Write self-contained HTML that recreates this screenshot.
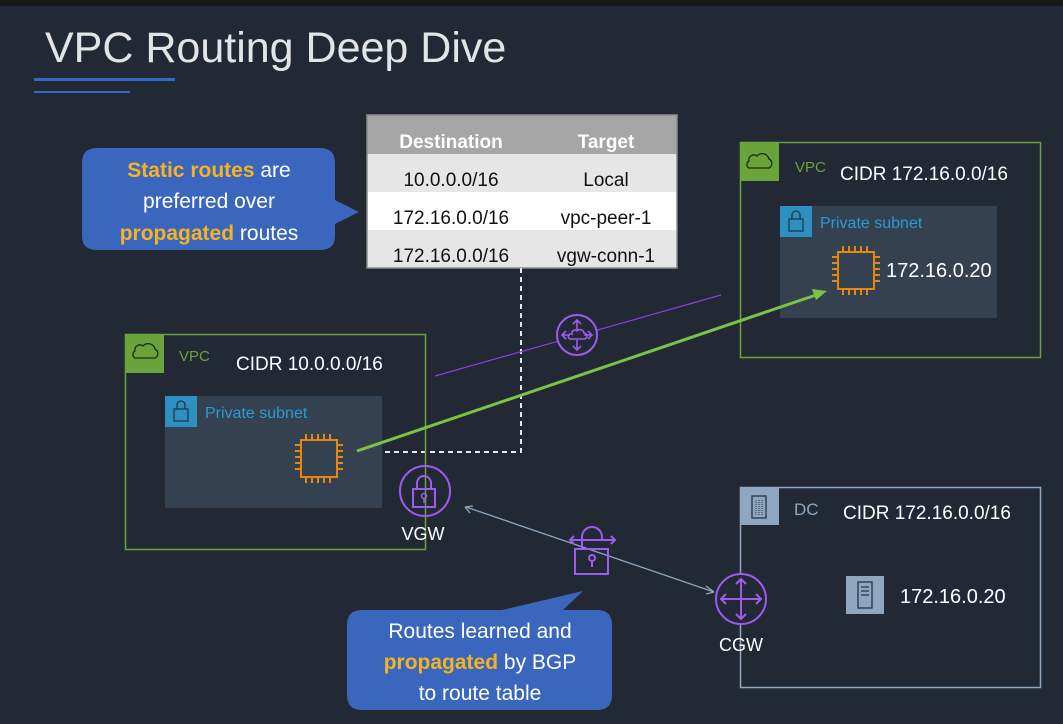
<!DOCTYPE html>
<html><head><meta charset="utf-8"><style>
body{margin:0;background:#222935;}
svg{display:block}
text{font-family:"Liberation Sans",sans-serif}
</style></head><body>
<svg width="1063" height="724" viewBox="0 0 1063 724" xmlns="http://www.w3.org/2000/svg">
<rect width="1063" height="724" fill="#222935"/>
<rect width="1063" height="6" fill="#1a1a1a"/>
<text x="45" y="62" font-size="43" fill="#e4e4e4">VPC Routing Deep Dive</text>
<rect x="34" y="78" width="141" height="3" fill="#2f6bc4"/>
<rect x="34" y="91" width="96" height="2" fill="#2f6bc4"/>

<!-- table -->
<rect x="367" y="115" width="310" height="39" fill="#a6a6a6"/>
<rect x="367" y="154" width="310" height="38" fill="#e6e6e6"/>
<rect x="367" y="192" width="310" height="38" fill="#ffffff"/>
<rect x="367" y="230" width="310" height="38" fill="#e6e6e6"/>
<rect x="367" y="115" width="310" height="153" fill="none" stroke="#8c8c8c" stroke-width="1.5"/>
<g font-size="19" text-anchor="middle">
<text x="451" y="148" fill="#fff" font-weight="bold">Destination</text>
<text x="606" y="148" fill="#fff" font-weight="bold">Target</text>
<text x="451" y="186" fill="#111">10.0.0.0/16</text>
<text x="606" y="186" fill="#111">Local</text>
<text x="451" y="224" fill="#111">172.16.0.0/16</text>
<text x="606" y="224" fill="#111">vpc-peer-1</text>
<text x="451" y="262" fill="#111">172.16.0.0/16</text>
<text x="606" y="262" fill="#111">vgw-conn-1</text>
</g>

<!-- callout 1 -->
<path d="M97 148 H320 Q335 148 335 163 V200 L359 212 L335 224 V236 Q335 250 320 250 H97 Q82 250 82 236 V163 Q82 148 97 148 Z" fill="#3a66bd"/>
<g font-size="21" text-anchor="middle" fill="#fff">
<text x="209" y="177"><tspan fill="#f5b324" font-weight="bold">Static routes</tspan> are</text>
<text x="209" y="208">preferred over</text>
<text x="209" y="240"><tspan fill="#f5b324" font-weight="bold">propagated</tspan> routes</text>
</g>

<!-- dashed -->
<path d="M521 268 V452 H383" fill="none" stroke="#e8e8e8" stroke-width="2" stroke-dasharray="5,4"/>

<!-- left VPC -->
<rect x="125.5" y="334.5" width="300" height="215" fill="none" stroke="#6aa33a" stroke-width="1.5"/>
<rect x="125" y="334" width="39" height="39" fill="#6aa33a"/>
<path d="M135 358 h20 a5 5 0 0 0 0-9 a7 7 0 0 0-12-3 a5 5 0 0 0-8 5 a4 4 0 0 0 0 7z" fill="none" stroke="#1f2a1a" stroke-width="1.3"/>
<text x="179" y="361" font-size="15" fill="#6aa33a">VPC</text>
<text x="236" y="370" font-size="19" fill="#fff">CIDR 10.0.0.0/16</text>
<rect x="165" y="396" width="217" height="112" fill="#334150"/>
<rect x="165" y="396" width="32" height="31" fill="#2e8fc1"/>
<rect x="174" y="409" width="14" height="12" fill="none" stroke="#1d3a4a" stroke-width="1.3"/>
<path d="M177 409 v-4 a4 4 0 0 1 8 0 v4" fill="none" stroke="#1d3a4a" stroke-width="1.3"/>
<text x="205" y="418" font-size="16" fill="#2e9ad0">Private subnet</text>
<g stroke="#e8870f" stroke-width="2" fill="none">
<rect x="301" y="440" width="36" height="37"/>
<path d="M306 434v6M312 434v6M318 434v6M324 434v6M330 434v6M306 477v6M312 477v6M318 477v6M324 477v6M330 477v6M295 445h6M295 451h6M295 457h6M295 463h6M295 469h6M337 445h6M337 451h6M337 457h6M337 463h6M337 469h6"/>
</g>

<!-- right VPC -->
<rect x="740.5" y="142.5" width="300" height="215" fill="none" stroke="#6aa33a" stroke-width="1.5"/>
<rect x="740" y="142" width="39" height="39" fill="#6aa33a"/>
<path d="M749 168 h20 a5 5 0 0 0 0-9 a7 7 0 0 0-12-3 a5 5 0 0 0-8 5 a4 4 0 0 0 0 7z" fill="none" stroke="#1f2a1a" stroke-width="1.3"/>
<text x="795" y="172" font-size="15" fill="#6aa33a">VPC</text>
<text x="840" y="180" font-size="19" fill="#fff">CIDR 172.16.0.0/16</text>
<rect x="780" y="206" width="217" height="112" fill="#334150"/>
<rect x="780" y="206" width="32" height="31" fill="#2e8fc1"/>
<rect x="789" y="219" width="14" height="12" fill="none" stroke="#1d3a4a" stroke-width="1.3"/>
<path d="M792 219 v-4 a4 4 0 0 1 8 0 v4" fill="none" stroke="#1d3a4a" stroke-width="1.3"/>
<text x="820" y="228" font-size="16" fill="#2e9ad0">Private subnet</text>
<g stroke="#e8870f" stroke-width="2" fill="none">
<rect x="838" y="252" width="36" height="37"/>
<path d="M843 246v6M849 246v6M855 246v6M861 246v6M867 246v6M843 289v6M849 289v6M855 289v6M861 289v6M867 289v6M832 257h6M832 263h6M832 269h6M832 275h6M832 281h6M874 257h6M874 263h6M874 269h6M874 275h6M874 281h6"/>
</g>
<text x="886" y="277" font-size="20" fill="#fff">172.16.0.20</text>

<!-- peering line -->
<line x1="435" y1="376" x2="721" y2="295" stroke="#8a3ee0" stroke-width="1.2"/>
<circle cx="577" cy="335" r="20" fill="#222935" stroke="#9d5cf0" stroke-width="2"/>
<g stroke="#9d5cf0" stroke-width="1.6" fill="none">
<path d="M577 320v10M573 324l4-4 4 4M577 350v-10M573 346l4 4 4-4M562 335h8M566 331l-4 4 4 4M592 335h-8M588 331l4 4-4 4"/>
<path d="M570 339h14a3 3 0 0 0 0-6a4 4 0 0 0-7-2a3 3 0 0 0-5 3a2.5 2.5 0 0 0-2 5z"/>
</g>

<!-- green arrow -->
<line x1="357" y1="451" x2="816" y2="295" stroke="#7dc242" stroke-width="3"/>
<path d="M827 291 L812 289 L816 300 Z" fill="#7dc242"/>

<!-- VGW -->
<circle cx="425" cy="491" r="25" fill="none" stroke="#9d5cf0" stroke-width="2"/>
<rect x="413" y="489" width="22" height="18" fill="none" stroke="#9d5cf0" stroke-width="2"/>
<path d="M417 489 v-6 a7 7 0 0 1 14 0 v6" fill="none" stroke="#9d5cf0" stroke-width="2"/>
<circle cx="424" cy="496" r="2.5" fill="none" stroke="#9d5cf0" stroke-width="1.5"/>
<line x1="424" y1="498" x2="424" y2="503" stroke="#9d5cf0" stroke-width="1.5"/>
<text x="423" y="540" font-size="18" fill="#fff" text-anchor="middle">VGW</text>

<!-- DC -->
<rect x="740.5" y="487.5" width="300" height="200" fill="none" stroke="#8fa6c0" stroke-width="1.5"/>
<rect x="740" y="487" width="39" height="38" fill="#8fa6c0"/>
<rect x="752" y="496" width="14" height="22" fill="none" stroke="#2a3342" stroke-width="1.3"/>
<path d="M756 500v15M759 500v15M762 500v15" stroke="#2a3342" stroke-width="1" stroke-dasharray="1,1"/>
<text x="794" y="515" font-size="17" fill="#8fa6c0">DC</text>
<text x="843" y="519" font-size="19" fill="#fff">CIDR 172.16.0.0/16</text>
<rect x="846" y="576" width="38" height="38" fill="#8fa6c0"/>
<rect x="858" y="582" width="14" height="26" fill="none" stroke="#2a3342" stroke-width="1.3"/>
<path d="M861 587h8M861 591h8M861 595h8" stroke="#2a3342" stroke-width="1.2"/>
<text x="900" y="603" font-size="20" fill="#fff">172.16.0.20</text>

<!-- VPN connection line -->
<line x1="714" y1="592" x2="466" y2="507" stroke="#8fa6c0" stroke-width="1.3"/>
<path d="M465 507 L473 506 M465 507 L470 513" stroke="#8fa6c0" stroke-width="1.3"/>
<path d="M714 592 L706 586 M714 592 L706 594" stroke="#8fa6c0" stroke-width="1.3"/>
<g stroke="#9d5cf0" stroke-width="2" fill="none">
<rect x="575" y="549" width="33" height="25"/>
<path d="M582 549 v-12 a10 10 0 0 1 20 0 v4"/>
<path d="M570 540h45M574 536l-4 4 4 4M611 536l4 4-4 4"/>
<circle cx="592" cy="558" r="3"/>
<path d="M592 561v6"/>
</g>

<!-- CGW -->
<circle cx="741" cy="599" r="25" fill="#222935" stroke="#9d5cf0" stroke-width="2"/>
<g stroke="#9d5cf0" stroke-width="2" fill="none">
<path d="M741 579v40M721 599h40M736 584l5-5 5 5M736 614l5 5 5-5M726 594l-5 5 5 5M756 594l5 5-5 5"/>
</g>
<text x="741" y="651" font-size="18" fill="#fff" text-anchor="middle">CGW</text>

<!-- callout 2 -->
<path d="M362 610 H502 L583 591 L563 610 H597 Q612 610 612 625 V695 Q612 710 597 710 H362 Q347 710 347 695 V625 Q347 610 362 610 Z" fill="#3a66bd"/>
<g font-size="21" text-anchor="middle" fill="#fff">
<text x="480" y="638">Routes learned and</text>
<text x="480" y="669"><tspan fill="#f5b324" font-weight="bold">propagated</tspan> by BGP</text>
<text x="480" y="700">to route table</text>
</g>
</svg>
</body></html>
